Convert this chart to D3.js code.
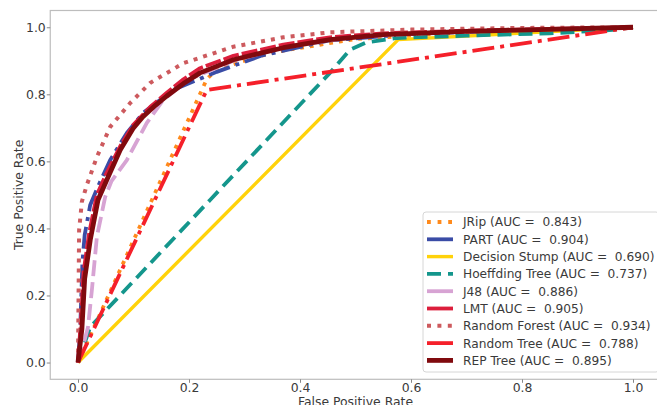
<!DOCTYPE html>
<html>
<head>
<meta charset="utf-8">
<script src="https://cdn.jsdelivr.net/npm/d3@7"></script>
<style>
  html, body { margin: 0; padding: 0; background: #fff; }
  svg { display: block; }
  text { font-family: "DejaVu Sans", sans-serif; }
</style>
</head>
<body>
<svg id="chart" width="657" height="405"></svg>
<script>
// ---------- data ----------
const modelNames = ["JRip", "PART", "Decision Stump", "Hoeffding Tree", "J48", "LMT", "Random Forest", "Random Tree", "REP Tree"];
const aucValues = ["0.843", "0.904", "0.690", "0.737", "0.886", "0.905", "0.934", "0.788", "0.895"];
const tickValues = [0.0, 0.2, 0.4, 0.6, 0.8, 1.0];

const fprJRip = [0, 0.232, 0.25, 0.35, 0.5, 0.7, 1];
const tprJRip = [0, 0.845, 0.875, 0.925, 0.965, 0.985, 1];

const fprPART = [0, 0.004, 0.008, 0.012, 0.022, 0.036, 0.058, 0.088, 0.117, 0.171, 0.25, 0.33, 0.45, 0.6, 0.8, 1];
const tprPART = [0, 0.1, 0.3, 0.38, 0.47, 0.525, 0.604, 0.685, 0.744, 0.813, 0.867, 0.915, 0.96, 0.98, 0.992, 1];

const fprStump = [0, 0.577, 1];
const tprStump = [0, 0.963, 1];

const fprHoeff = [0, 0.022, 0.238, 0.454, 0.49, 0.52, 0.575, 0.7, 0.85, 0.964, 1];
const tprHoeff = [0, 0.106, 0.485, 0.864, 0.933, 0.955, 0.968, 0.975, 0.982, 0.992, 1];

const fprJ48 = [0, 0.012, 0.018, 0.025, 0.034, 0.049, 0.06, 0.088, 0.124, 0.154, 0.2, 0.28, 0.37, 0.5, 0.7, 1];
const tprJ48 = [0, 0.067, 0.105, 0.216, 0.375, 0.494, 0.54, 0.604, 0.715, 0.784, 0.845, 0.9, 0.94, 0.972, 0.988, 1];

const fprLMT = [0, 0.005, 0.01, 0.02, 0.034, 0.05, 0.076, 0.1, 0.13, 0.16, 0.19, 0.22, 0.28, 0.37, 0.454, 0.55, 0.7, 0.85, 1];
const tprLMT = [0, 0.12, 0.27, 0.385, 0.5, 0.56, 0.645, 0.71, 0.762, 0.805, 0.845, 0.878, 0.915, 0.948, 0.97, 0.982, 0.99, 0.995, 1];

const fprRF = [0, 0.001, 0.002, 0.007, 0.016, 0.034, 0.058, 0.094, 0.13, 0.19, 0.28, 0.37, 0.454, 0.6, 0.8, 1];
const tprRF = [0, 0.2, 0.395, 0.48, 0.53, 0.613, 0.703, 0.774, 0.834, 0.893, 0.942, 0.97, 0.985, 0.993, 0.998, 1];

const fprRT = [0, 0.232, 1];
const tprRT = [0, 0.813, 1];

const fprREP = [0, 0.007, 0.012, 0.022, 0.036, 0.052, 0.076, 0.1, 0.117, 0.14, 0.16, 0.19, 0.22, 0.28, 0.37, 0.454, 0.55, 0.7, 0.85, 1];
const tprREP = [0, 0.1, 0.25, 0.365, 0.485, 0.545, 0.634, 0.7, 0.733, 0.768, 0.795, 0.832, 0.864, 0.903, 0.939, 0.963, 0.978, 0.988, 0.994, 1];

const fprList = [fprJRip, fprPART, fprStump, fprHoeff, fprJ48, fprLMT, fprRF, fprRT, fprREP];
const tprList = [tprJRip, tprPART, tprStump, tprHoeff, tprJ48, tprLMT, tprRF, tprRT, tprREP];

// ---------- styles ----------
const colors = ["#ff8a1c", "#3a4ca6", "#ffd20a", "#14968c", "#d7a3d3", "#dc1e3c", "#cd5a5e", "#f5202a", "#800a0e"];
const widths = [3.8, 3.8, 3.4, 3.8, 3.8, 3.8, 4.0, 3.8, 4.8];
const dashes = ["3.8,6", "22,6,4,6", null, "14,7", "16,6", "16,3", "4,6", "22,6,4,6", null];
const legendDashes = ["3.8,6.8", null, null, "14,7", null, null, "4,6.4", null, null];
const fontSize = 12.4;
const legendFontSize = 12.2;

// ---------- chart ----------
const svg = d3.select("#chart");
const x = d3.scaleLinear().domain([-0.05, 1.05]).range([50.25, 660.75]);
const y = d3.scaleLinear().domain([-0.05, 1.05]).range([379.3, 10.5]);

// spines
svg.append("rect")
  .attr("x", x(-0.05)).attr("y", y(1.05))
  .attr("width", x(1.05) - x(-0.05)).attr("height", y(-0.05) - y(1.05))
  .attr("fill", "none").attr("stroke", "#bdbdbd").attr("stroke-width", 1.2);

const xAxis = svg.append("g")
  .attr("transform", `translate(0,${y(-0.05)})`)
  .call(d3.axisBottom(x).tickValues(tickValues).tickFormat(d3.format(".1f")).tickSize(3.5));
xAxis.select(".domain").remove();
xAxis.selectAll("line").attr("stroke", "#888");
xAxis.selectAll("text").attr("dy", null).attr("y", 13.1)
  .attr("font-size", fontSize).attr("fill", "#3a3a3a").attr("font-family", "DejaVu Sans");

const yAxis = svg.append("g")
  .attr("transform", `translate(${x(-0.05)},0)`)
  .call(d3.axisLeft(y).tickValues(tickValues).tickFormat(d3.format(".1f")).tickSize(3.5));
yAxis.select(".domain").remove();
yAxis.selectAll("line").attr("stroke", "#888");
yAxis.selectAll("text").attr("x", -4.5).attr("dy", "0.35em")
  .attr("font-size", fontSize).attr("fill", "#3a3a3a").attr("font-family", "DejaVu Sans");

// axis labels
svg.append("text")
  .attr("x", (x(-0.05) + x(1.05)) / 2).attr("y", 406)
  .attr("text-anchor", "middle").attr("font-size", fontSize).attr("fill", "#3a3a3a")
  .text("False Positive Rate");
svg.append("text")
  .attr("transform", `translate(22.5,${(y(-0.05) + y(1.05)) / 2}) rotate(-90)`)
  .attr("text-anchor", "middle").attr("font-size", fontSize).attr("fill", "#3a3a3a")
  .text("True Positive Rate");

// curves
const line = d3.line().x(d => x(d[0])).y(d => y(d[1]));
modelNames.forEach((name, i) => {
  const pts = fprList[i].map((f, k) => [f, tprList[i][k]]);
  svg.append("path")
    .attr("d", line(pts))
    .attr("fill", "none")
    .attr("stroke", colors[i])
    .attr("stroke-width", widths[i])
    .attr("stroke-linejoin", "round")
    .attr("stroke-dasharray", dashes[i]);
});

// legend
const lg = svg.append("g");
lg.append("rect")
  .attr("x", 423).attr("y", 212).attr("width", 236).attr("height", 160)
  .attr("rx", 3).attr("fill", "#ffffff").attr("fill-opacity", 0.85)
  .attr("stroke", "#d6d6d6").attr("stroke-width", 1);
modelNames.forEach((name, i) => {
  const cy = 222 + i * 17.3;
  lg.append("line")
    .attr("x1", 427).attr("x2", 453).attr("y1", cy).attr("y2", cy)
    .attr("stroke", colors[i]).attr("stroke-width", widths[i])
    .attr("stroke-dasharray", legendDashes[i]);
  lg.append("text")
    .attr("x", 463).attr("y", cy + 4.4)
    .attr("font-size", legendFontSize).attr("fill", "#3a3a3a")
    .attr("xml:space", "preserve").style("white-space", "pre")
    .text(`${name} (AUC =  ${aucValues[i]})`);
});
</script>
</body>
</html>
